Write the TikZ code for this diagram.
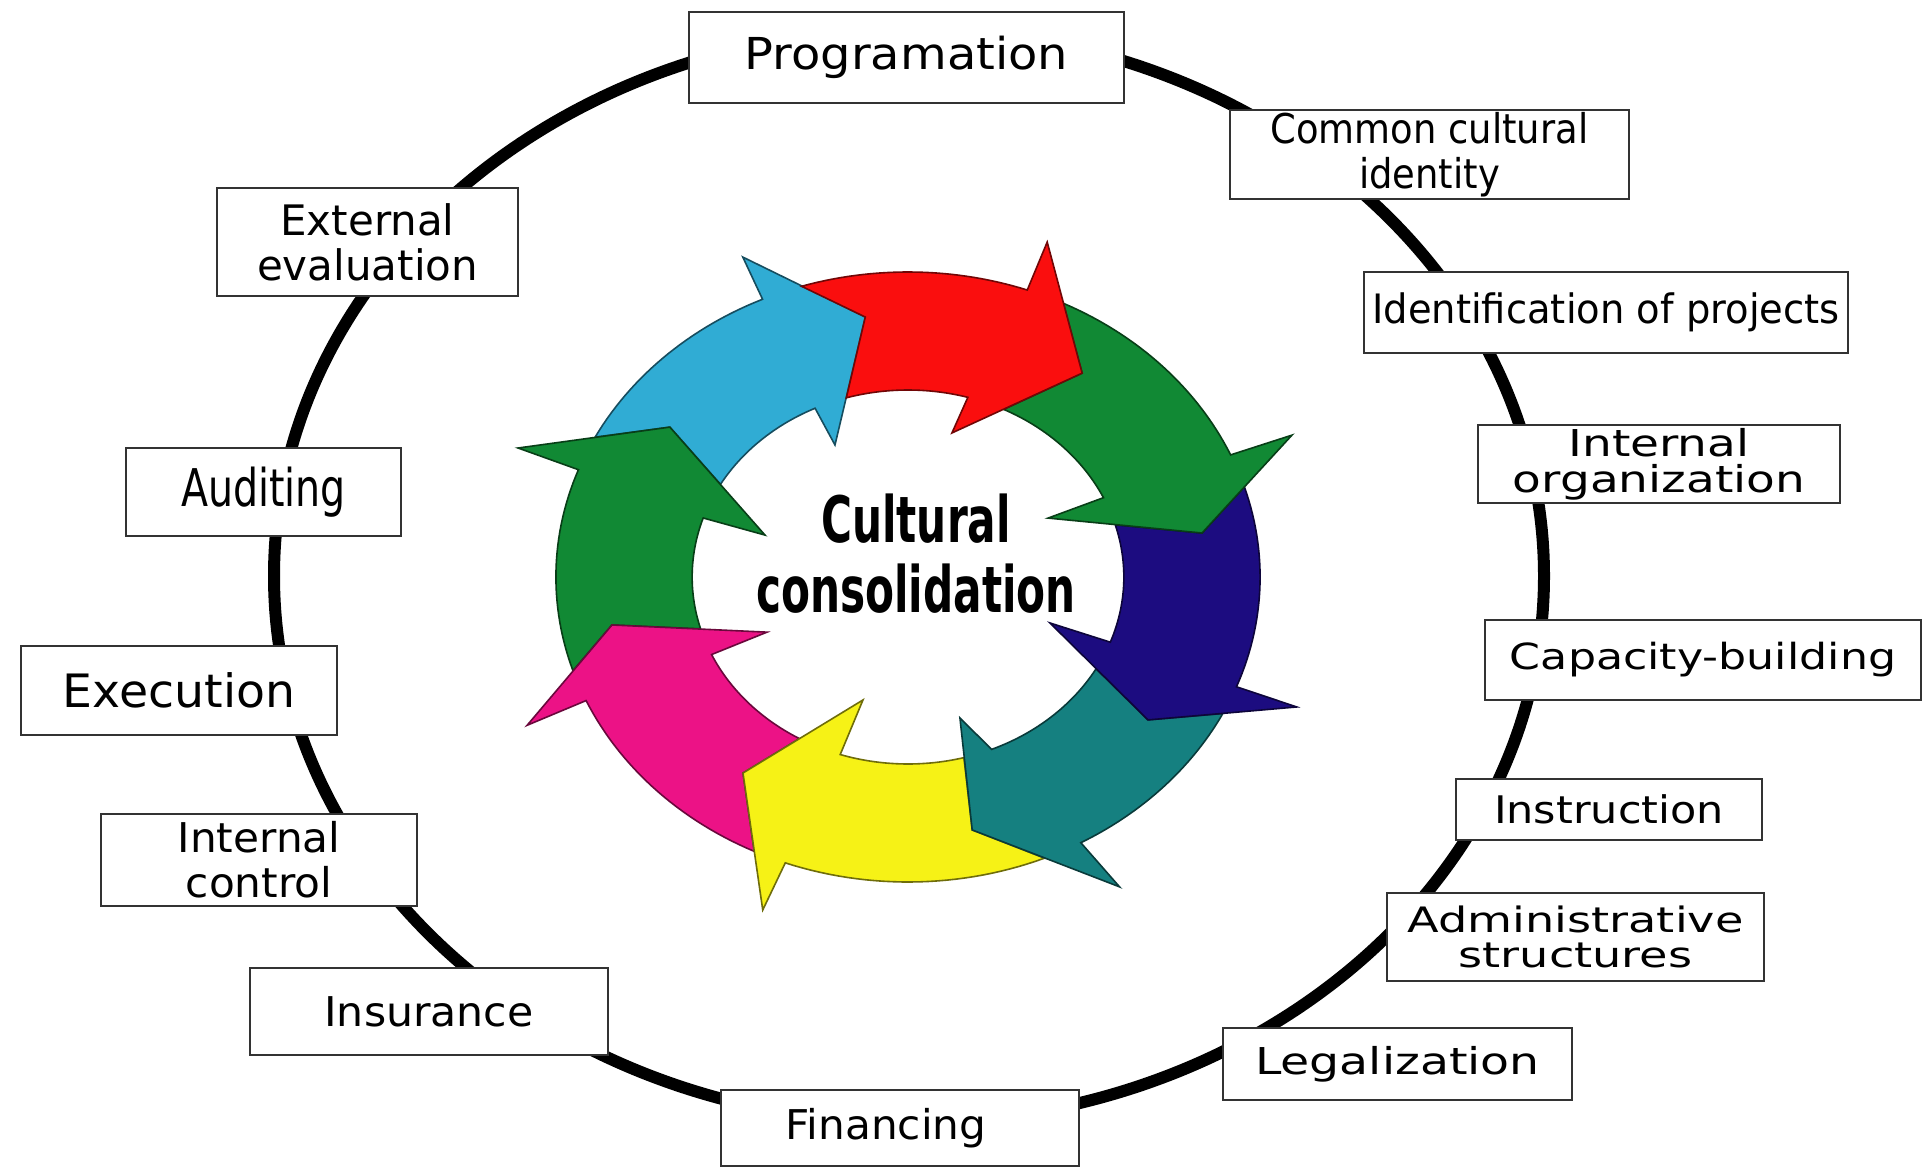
\documentclass[tikz,border=0pt]{standalone}
\usepackage{fontspec}
\setmainfont{DejaVu Sans}
\usepackage{graphicx}
\definecolor{cRed}{RGB}{250,14,14}
\definecolor{cGreen}{RGB}{17,137,52}
\definecolor{cNavy}{RGB}{28,12,128}
\definecolor{cTeal}{RGB}{21,128,128}
\definecolor{cYellow}{RGB}{246,242,22}
\definecolor{cMagenta}{RGB}{236,18,134}
\definecolor{cCyan}{RGB}{48,172,212}
% label: #1 horizontal scale, #2 font size, #3 line skip, #4 lines separated by \cr
\newcommand\lbl[4]{\scalebox{#1}[1]{\fontsize{#2}{#3}\selectfont\lineskiplimit=-100pt\relax\vbox{\halign{\hfil##\hfil\cr#4\crcr}}}}
% ring arrow: #1 colour, #2 tail outer angle, #3 outer notch angle, #4 outer barb, #5 tip,
% #6 inner barb, #7 inner notch angle, #8 tail inner angle, #9 previous tip
\newcommand\ringarrow[9]{%
  \filldraw[ringarr, fill=#1, draw=#1!45!black] (#2:305)
    -- plot[domain=#2:#3, samples=30] (\x:305)
    -- (#4) -- (#5) -- (#6)
    -- plot[domain=#7:#8, samples=30] (\x:187)
    -- (#9) -- cycle;}
\begin{document}
\begin{tikzpicture}[x=0.5pt, y=-0.5pt,
  box/.style={draw=black!80, line width=1.25pt, fill=white, inner sep=0pt},
  ringarr/.style={line width=0.8pt, line join=miter}]
\useasboundingbox (0,0) rectangle (1923,1172);
\fill[white] (0,0) rectangle (1923,1172);
% outer cycle
\draw[line width=6pt] (909,576) ellipse [x radius=317.5pt, y radius=273.5pt];
% boxes
\node[box, minimum width=217.5pt, minimum height=45.5pt] (prog) at (906.5,57.5) {\lbl{1.09}{22}{26}{Programation}};
\node[box, minimum width=199.5pt, minimum height=44.5pt] (cci) at (1429.5,154.5) {\lbl{0.9}{20.5}{22.5}{Common cultural\cr identity}};
\node[box, minimum width=242pt, minimum height=40.5pt] (idp) at (1606,312.5) {\lbl{0.95}{20.25}{24}{Identification of projects}};
\node[box, minimum width=181pt, minimum height=39pt] (io) at (1659,464) {\lbl{1.27}{18.5}{18}{Internal\cr organization}};
\node[box, minimum width=218pt, minimum height=40pt] (cap) at (1703,660) {\lbl{1.23}{18}{22}{Capacity-building}};
\node[box, minimum width=153pt, minimum height=30.5pt] (ins) at (1609,809.5) {\lbl{1.13}{19}{22}{Instruction}};
\node[box, minimum width=188.5pt, minimum height=44pt] (adm) at (1575.5,937) {\lbl{1.32}{17.5}{17.5}{Administrative\cr structures}};
\node[box, minimum width=174.5pt, minimum height=36pt] (leg) at (1397.5,1064) {\lbl{1.28}{18.5}{22}{Legalization}};
\node[box, minimum width=179pt, minimum height=38pt] (fin) at (900,1128) {\hspace*{-14pt}\lbl{1.03}{20.5}{24}{Financing}};
\node[box, minimum width=179pt, minimum height=43.5pt] (insu) at (429,1011.5) {\lbl{1.04}{20.5}{24}{Insurance}};
\node[box, minimum width=158pt, minimum height=46pt] (ic) at (259,860) {\lbl{1.03}{20.5}{22.5}{Internal\cr control}};
\node[box, minimum width=158pt, minimum height=44.5pt] (exe) at (179,690.5) {\lbl{1.03}{23}{27}{Execution}};
\node[box, minimum width=137.5pt, minimum height=44pt] (aud) at (263.5,492) {\lbl{0.76}{26}{30}{Auditing}};
\node[box, minimum width=150.5pt, minimum height=54pt] (ext) at (367.5,242) {\lbl{1.0}{21}{22.5}{External\cr evaluation}};
% central ring of arrows
\begin{scope}[shift={(908,577)}, x=0.5772pt, y=0.5pt]
\ringarrow{cCyan}{152.7}{114.4}{114.1:350.5}{98.1:262.6}{115.6:146.4}{115.5}{150.3}{144:255}
\ringarrow{cGreen}{197.9}{159.4}{159.1:361.6}{144:255}{161.3:130.8}{161.6}{196.1}{190.6:260.9}
\ringarrow{cMagenta}{-115.9}{-156.1}{-155.8:361.7}{-169.4:260.9}{-155.7:134}{-155.5}{-120.2}{-126.1:242.6}
\ringarrow{cYellow}{-67.2}{-110.4}{-110.7:356}{-126.1:242.6}{-107.6:129}{-108.3}{-75}{-77.6:259}
\ringarrow{cTeal}{-26.6}{-60.6}{-59.4:360}{-77.6:259}{-72.3:148}{-67.2}{-29.4}{-34.5:252.3}
\ringarrow{cNavy}{17.2}{-21.1}{-21.1:361}{-34.5:252.3}{-20.5:131.3}{-20.4}{16.2}{9.8:258.5}
\ringarrow{cGreen}{63.8}{23.6}{23.1:361.6}{9.8:258.5}{25.9:134.9}{25.1}{63.7}{53.5:253.6}
\ringarrow{cRed}{107.6}{70.2}{70.2:356}{53.5:253.6}{75.2:149}{73.9}{106.6}{98.1:262.6}
\end{scope}
\node (title) at (916,554) {\bfseries\lbl{0.66}{32}{35}{Cultural\cr consolidation}};
\end{tikzpicture}
\end{document}
